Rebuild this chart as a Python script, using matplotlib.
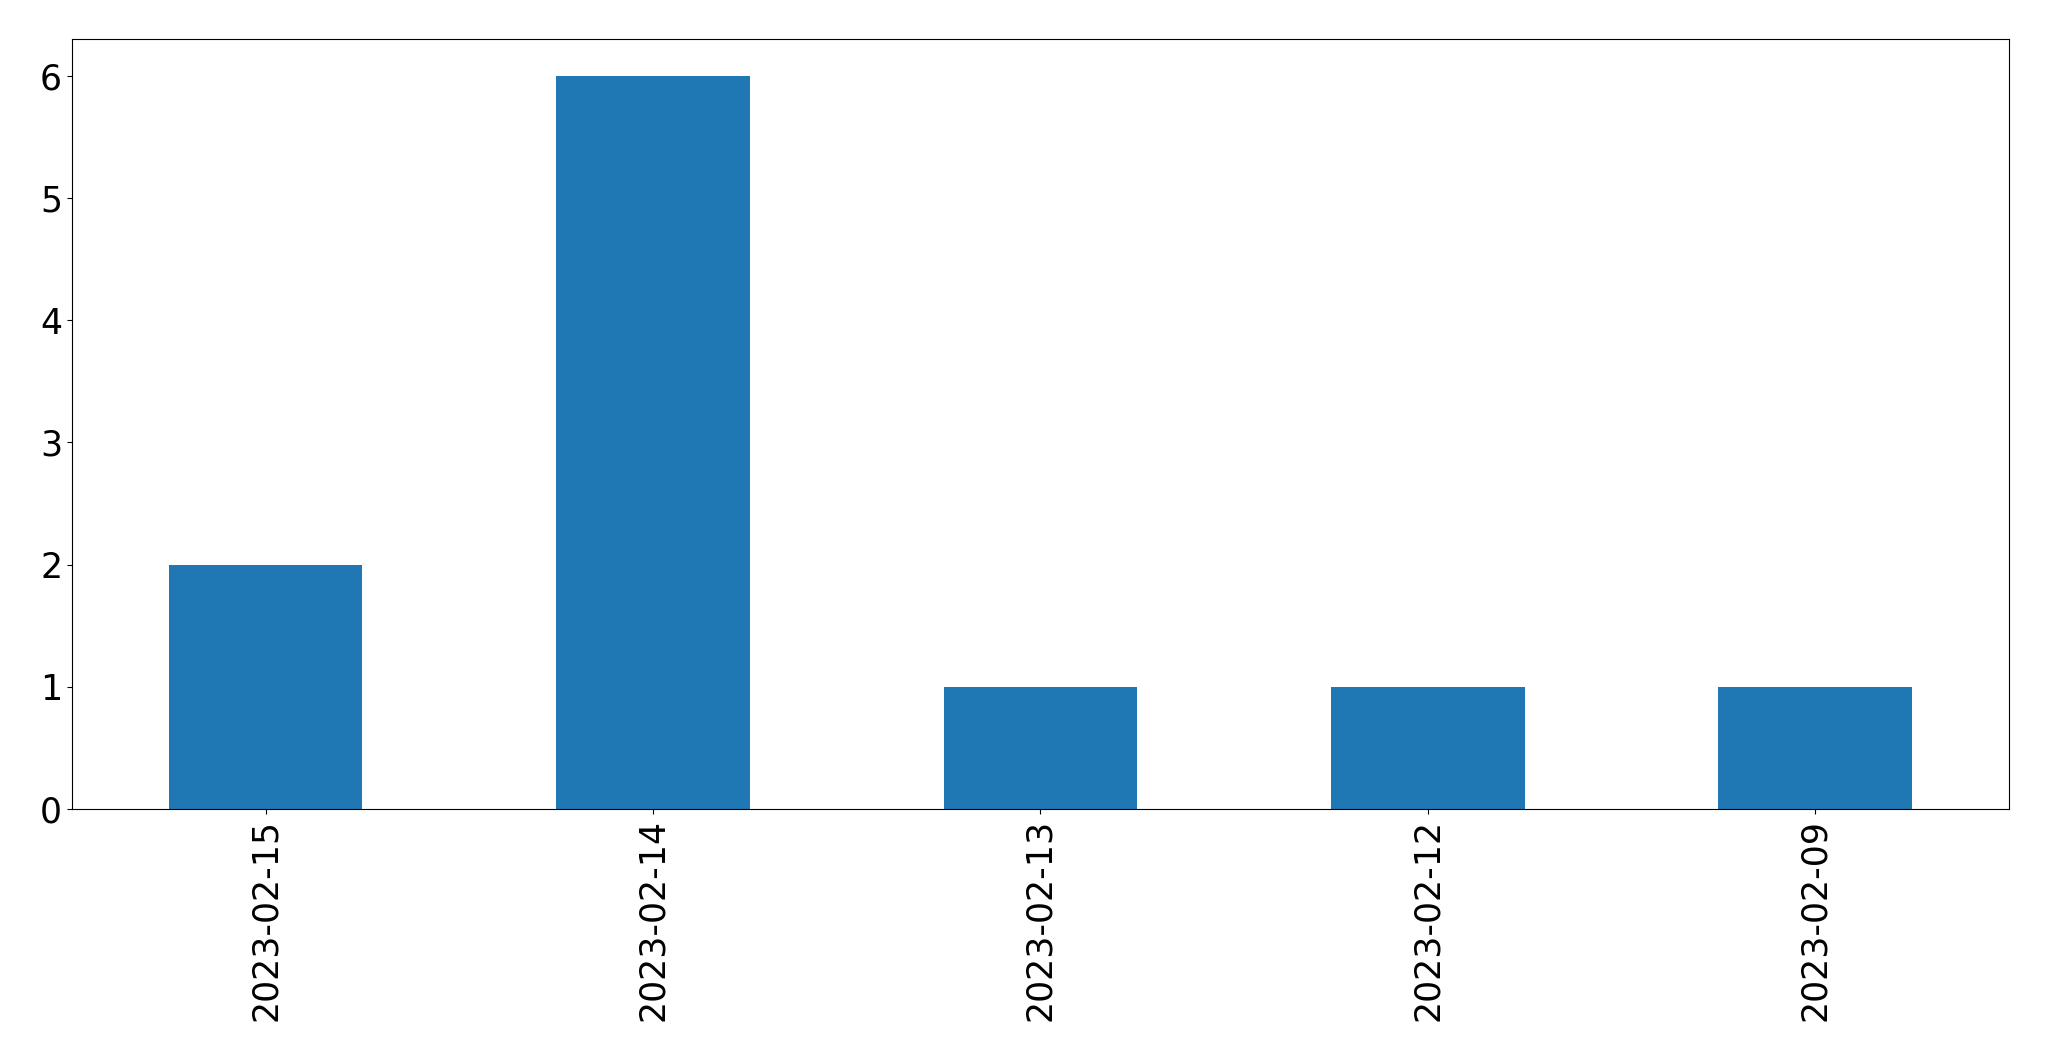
import matplotlib
matplotlib.use('agg')
import matplotlib.pyplot as plt
import pandas as pd

dates = ['2023-02-15', '2023-02-14', '2023-02-13', '2023-02-12', '2023-02-09']
counts = [2, 6, 1, 1, 1]

s = pd.Series(counts, index=dates)

fig = plt.figure(figsize=(20.49, 10.61), dpi=100)
ax = fig.add_axes([0.0351, 0.2375, 0.9454, 0.7257])
s.plot(kind='bar', ax=ax, color='#1f77b4', fontsize=25)
ax.set_xlim(-0.5, len(dates) - 0.5)

fig.savefig('out.png', dpi=100)
